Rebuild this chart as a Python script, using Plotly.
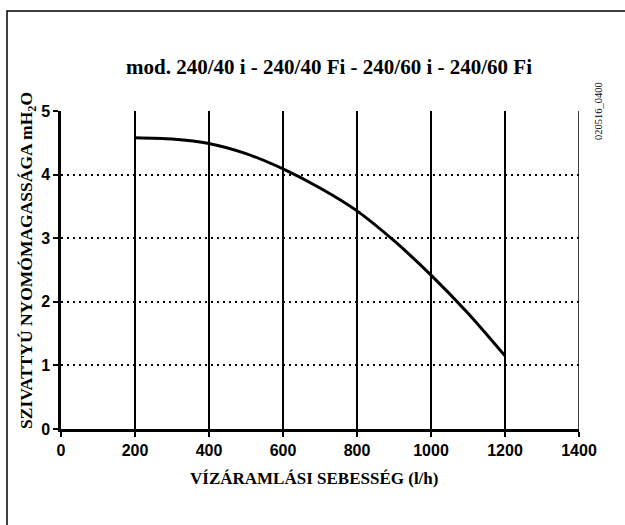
import plotly.graph_objects as go

# Pump head curve
flow_lh = [200, 300, 400, 500, 600, 700, 800, 900, 1000, 1100, 1200]
head_m = [4.58, 4.56, 4.49, 4.33, 4.09, 3.79, 3.43, 2.96, 2.42, 1.82, 1.15]

x_ticks = [0, 200, 400, 600, 800, 1000, 1200, 1400]
y_ticks = [0, 1, 2, 3, 4, 5]

title_text = "mod. 240/40 i - 240/40 Fi - 240/60 i - 240/60 Fi"
x_title = "VÍZÁRAMLÁSI SEBESSÉG (l/h)"
y_title = "SZIVATTYÚ NYOMÓMAGASSÁGA mH<sub>2</sub>O"
doc_code = "020516_0400"

W, H = 625, 525
L, R, T, B = 61, 46, 111, 96
pw, ph = W - L - R, H - T - B


def px(xp):
    return (xp - L) / pw


def py(yp):
    return (H - B - yp) / ph


serif = "Liberation Serif, Times New Roman, serif"
sans = "Liberation Sans, Arial, sans-serif"

fig = go.Figure()
fig.add_trace(go.Scatter(
    x=flow_lh, y=head_m, mode="lines",
    line=dict(color="black", width=3, shape="spline", smoothing=0.8),
    showlegend=False, hoverinfo="skip",
))

# solid vertical rule at the right edge of the grid
fig.add_shape(type="line", xref="x", yref="y", x0=x_ticks[-1], x1=x_ticks[-1],
              y0=y_ticks[0], y1=y_ticks[-1], line=dict(color="black", width=1.5))

# page frame (top and left edges)
fig.add_shape(type="path", xref="paper", yref="paper",
              path=f"M {px(7)} {py(530)} L {px(7)} {py(11)} L {px(630)} {py(11)}",
              line=dict(color="black", width=1.5))


def label(text, x, y, size, angle=0, family=serif):
    fig.add_annotation(text=text, xref="paper", yref="paper",
                       x=px(x), y=py(y), xanchor="center", yanchor="middle",
                       showarrow=False, textangle=angle,
                       font=dict(family=family, size=size, color="black"))


label(f"<b>{title_text}</b>", 329, 67, 21)
label(f"<b>{x_title}</b>", 314, 478, 17)
label(f"<b>{y_title}</b>", 27, 261, 17.5, angle=-90)
label(doc_code, 598, 111, 10.5, angle=-90)

fig.update_xaxes(
    range=[x_ticks[0], x_ticks[-1]], tickvals=x_ticks,
    ticktext=[f"<b>{v}</b>" for v in x_ticks],
    showgrid=True, gridcolor="black", gridwidth=1.5,
    showline=True, linecolor="black", linewidth=2.5,
    ticks="outside", ticklen=5, tickwidth=2, tickcolor="black",
    zeroline=False, tickfont=dict(family=sans, size=16, color="black"),
)
fig.update_yaxes(
    range=[y_ticks[0], y_ticks[-1]], tickvals=y_ticks,
    ticktext=[f"<b>{v}</b>" for v in y_ticks],
    showgrid=True, gridcolor="black", gridwidth=1.5, griddash="2px,4px",
    showline=True, linecolor="black", linewidth=2.5,
    ticks="outside", ticklen=5, tickwidth=2, tickcolor="black",
    zeroline=False, tickfont=dict(family=sans, size=16, color="black"),
)

fig.update_layout(
    width=W, height=H,
    margin=dict(l=L, r=R, t=T, b=B),
    paper_bgcolor="white", plot_bgcolor="white",
    showlegend=False,
)

fig.write_html("out.html")
